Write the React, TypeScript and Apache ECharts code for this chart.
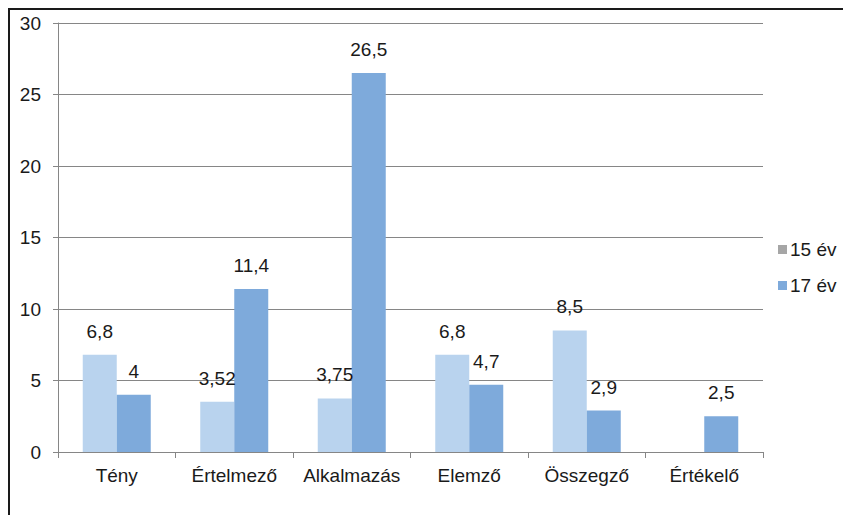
import React, { useEffect, useRef } from "react";
import * as echarts from "echarts";

const categories = ["Tény", "Értelmező", "Alkalmazás", "Elemző", "Összegző", "Értékelő"];
const series15 = [6.8, 3.52, 3.75, 6.8, 8.5, null];
const series17 = [4, 11.4, 26.5, 4.7, 2.9, 2.5];
const seriesNames = ["15 év", "17 év"];

const fmt = (v: number) => String(v).replace(".", ",");

export default function App() {
  const ref = useRef<HTMLDivElement>(null);
  useEffect(() => {
    if (!ref.current) return;
    const chart = echarts.init(ref.current, null, { renderer: "svg" });
    const font = "Liberation Sans, Arial, sans-serif";
    const fs = 19;
    const labelCfg = {
      show: true,
      position: "top" as const,
      distance: 14,
      fontSize: fs,
      fontFamily: font,
      color: "#1a1a1a",
      formatter: (p: any) => fmt(p.value),
    };
    chart.setOption({
      animation: false,
      textStyle: { fontFamily: font },
      grid: { left: 48, top: 13, right: 88, bottom: 63, containLabel: false },
      legend: {
        orient: "vertical",
        left: 763,
        top: 225,
        itemWidth: 9,
        itemHeight: 9,
        itemGap: 17,
        icon: "rect",
        textStyle: { fontSize: fs, color: "#1a1a1a", fontFamily: font, padding: [0, 0, 0, -2] },
        data: [
          { name: seriesNames[0], itemStyle: { color: "#a6a6a6" } },
          { name: seriesNames[1], itemStyle: { color: "#7eaadb" } },
        ],
      },
      xAxis: {
        type: "category",
        data: categories,
        axisLine: { lineStyle: { color: "#868686", width: 1 } },
        axisTick: { show: true, length: 6, lineStyle: { color: "#868686" } },
        axisLabel: { fontSize: fs, color: "#1a1a1a", margin: 14, fontFamily: font, interval: 0 },
      },
      yAxis: {
        type: "value",
        min: 0,
        max: 30,
        interval: 5,
        axisLine: { show: true, lineStyle: { color: "#868686", width: 1 } },
        axisTick: { show: true, length: 5, lineStyle: { color: "#868686" } },
        axisLabel: { fontSize: fs, color: "#1a1a1a", margin: 17, fontFamily: font },
        splitLine: { lineStyle: { color: "#868686", width: 1 } },
      },
      series: [
        {
          name: seriesNames[0],
          type: "bar",
          data: series15,
          barWidth: 34,
          barGap: "0%",
          itemStyle: { color: "#b9d3ee" },
          label: labelCfg,
        },
        {
          name: seriesNames[1],
          type: "bar",
          data: series17,
          barWidth: 34,
          barGap: "0%",
          itemStyle: { color: "#7eaadb" },
          label: labelCfg,
        },
      ],
    });
    return () => chart.dispose();
  }, []);
  return (
    <div
      style={{
        borderTop: "2px solid #1a1a1a",
        borderLeft: "2px solid #1a1a1a",
        width: 843,
        height: 507,
        boxSizing: "border-box",
        overflow: "hidden",
      }}
    >
      <div ref={ref} style={{ width: 841, height: 505 }} />
    </div>
  );
}
